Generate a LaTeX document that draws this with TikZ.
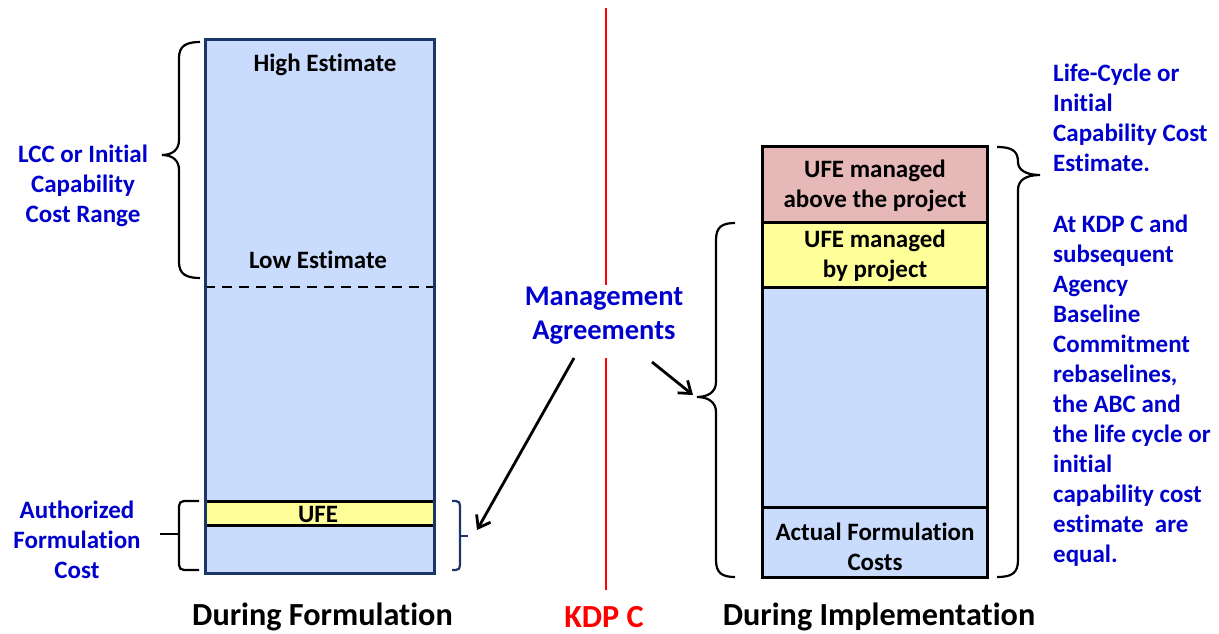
\documentclass[tikz,border=0pt]{standalone}
\usepackage{fontspec}
\setmainfont{Carlito}[Ligatures={NoCommon,NoRequired,NoContextual}]
\usetikzlibrary{arrows.meta}
\definecolor{boxblue}{HTML}{C9DCFD}
\definecolor{ufeyellow}{HTML}{FFFF99}
\definecolor{ufepink}{HTML}{E6B8B7}
\definecolor{navy}{HTML}{1B3668}
\definecolor{txtblue}{HTML}{0000CC}
\definecolor{kdpred}{HTML}{FF0000}
\tikzset{
  bar/.style={draw=black, line width=3pt},
  lbl/.style={font=\fontsize{25}{30}\selectfont\bfseries, inner sep=0pt, align=center},
  bluelbl/.style={lbl, text=txtblue},
  bracestyle/.style={draw=black, line width=2.2pt},
  arr/.style={line width=2.8pt, -{Straight Barb[length=11pt,width=16pt,line width=2.8pt]}},
  caption/.style={font=\fontsize{32.2}{38}\selectfont\bfseries, inner sep=0pt}
}
\begin{document}
\begin{tikzpicture}[x=1pt,y=-1pt]
\useasboundingbox (0,0) rectangle (1219,634);
% left box
\fill[boxblue] (205,40) rectangle (434,573);
\draw[line width=2.2pt, dash pattern=on 10pt off 7pt] (205,287) -- (437,287);
\filldraw[fill=ufeyellow, bar] (205,501) rectangle (434,525);
\draw[navy, line width=3pt] (205,40) rectangle (434,573);
\node[lbl] (high) at (325,65) {High Estimate};
\node[lbl] (low) at (318,260) {Low Estimate};
\node[lbl] (ufe) at (318,514) {UFE};
% left brace
\coordinate (lbtip) at (162,155);
\draw[bracestyle] (200,42) .. controls (186,42) and (179,46) .. (179,58) -- (179,140) .. controls (179,150) and (172,155) .. (lbtip) .. controls (172,155) and (179,160) .. (179,170) -- (179,262) .. controls (179,274) and (186,278) .. (200,278);
\node[bluelbl] (lcc) at (83,186) {LCC or Initial\\Capability\\Cost Range};
% lower left bracket
\coordinate (lltip) at (160,534);
\draw[bracestyle] (199,501) -- (184,501) .. controls (181,501) and (179,503) .. (179,506) -- (179,565) .. controls (179,568) and (181,570) .. (184,570) -- (199,570);
\draw[bracestyle] (lltip) -- (179,534);
\node[bluelbl] (auth) at (77,540) {Authorized\\Formulation\\Cost};
% small right bracket (navy)
\coordinate (srtip) at (468,536);
\draw[navy, line width=2.2pt] (452,501) -- (456,501) .. controls (459,501) and (460,503) .. (460,506) -- (460,565) .. controls (460,568) and (459,570) .. (456,570) -- (452,570);
\draw[navy, line width=2.2pt] (460,536) -- (srtip);
% KDP C line
\node[bluelbl, font=\fontsize{28.5}{34}\selectfont\bfseries] (mgmt) at (604,316) {Management\\Agreements};
\draw[kdpred, line width=2.8pt] (606,8) -- (606,285);
\draw[kdpred, line width=2.8pt] (606,358) -- (606,590);
\node[caption, text=kdpred] (kdp) at (604,617) {KDP C};
\node[caption] (form) at (322.5,617) {During Formulation};
\node[caption] (impl) at (879,617) {During Implementation};
% right box
\filldraw[fill=ufepink, bar] (762,146) rectangle (987,222);
\filldraw[fill=ufeyellow, bar] (762,222) rectangle (987,287);
\filldraw[fill=boxblue, bar] (762,287) rectangle (987,507);
\filldraw[fill=boxblue, bar] (762,507) rectangle (987,577);
\node[lbl] (above) at (875,186) {UFE managed\\above the project};
\node[lbl] (byproj) at (875,256) {UFE managed\\by project};
\node[lbl] (actual) at (875,547) {Actual Formulation\\Costs};
% brace left of right box
\coordinate (rbtip) at (697,397);
\draw[bracestyle] (735,223) .. controls (722,223) and (716,227) .. (716,240) -- (716,382) .. controls (716,392) and (708,397) .. (rbtip) .. controls (708,397) and (716,402) .. (716,412) -- (716,560) .. controls (716,573) and (722,577) .. (735,577);
% brace right of right box
\coordinate (rrtip) at (1040,175);
\draw[bracestyle] (997,147) .. controls (1012,147) and (1018,151) .. (1018,162) .. controls (1018,170) and (1026,175) .. (rrtip) .. controls (1026,175) and (1018,180) .. (1018,190) -- (1018,560) .. controls (1018,573) and (1012,577) .. (997,577);
% right text
\node[bluelbl, anchor=north west, align=left] (lce) at (1053,60) {\strut Life-Cycle or\\Initial\\Capability Cost\\Estimate.};
\node[bluelbl, anchor=north west, align=left] (kdptext) at (1053,211) {\strut At KDP C and\\subsequent\\Agency\\Baseline\\Commitment\\rebaselines,\\the ABC and\\the life cycle or\\initial\\capability cost\\estimate\ \ are\\equal.};
% arrows
\draw[arr] (574,358) -- (477,530);
\draw[arr] (652,362) -- (693,395);
\end{tikzpicture}
\end{document}
